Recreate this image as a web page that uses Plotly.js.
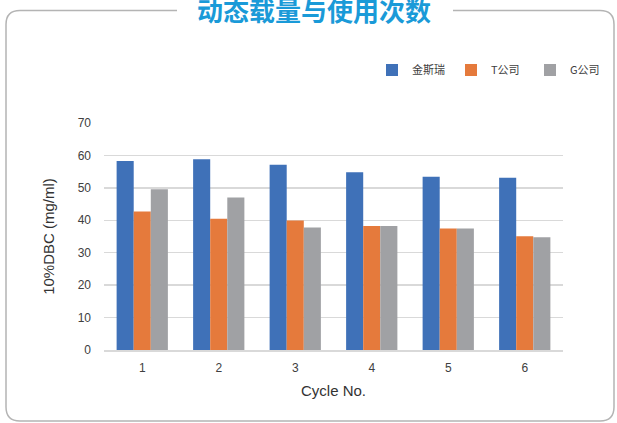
<!DOCTYPE html>
<html><head><meta charset="utf-8">
<script src="https://cdn.plot.ly/plotly-3.0.1.min.js"></script>
<style>html,body{margin:0;padding:0;background:#fff;}#chart{width:617px;height:423px;}</style>
</head><body><div id="chart"></div>
<script>
const categories = ['1','2','3','4','5','6'];
const seriesNames = ['金斯瑞','T公司','G公司'];
const genscript = [58.3, 58.8, 57.1, 54.8, 53.4, 53.1];
const companyT = [42.7, 40.5, 39.9, 38.2, 37.5, 35.1];
const companyG = [49.6, 47.0, 37.8, 38.2, 37.5, 34.8];
const colors = ['#3F71B8', '#E57A3C', '#A0A1A4'];
const chartTitle = '动态载量与使用次数';
const xTitle = 'Cycle No.';
const yTitle = '10%DBC (mg/ml)';

const W = 617, H = 423;
const mL = 104, mR = 54, mT = 123, mB = 73;
const pw = W - mL - mR, ph = H - mT - mB;
const px = x => (x - mL) / pw;
const py = y => (H - mB - y) / ph;

const values = [genscript, companyT, companyG];
const data = values.map((v, i) => ({
  type: 'bar', x: categories, y: v, name: seriesNames[i],
  marker: {color: colors[i], line: {width: 0}}
}));

// rounded frame with a gap for the title
const L = 6, T = 10.5, R = 614, B = 421, r = 14, gapL = 177, gapR = 453;
const framePath =
  `M${px(gapL)},${py(T)} L${px(L + r)},${py(T)} Q${px(L)},${py(T)} ${px(L)},${py(T + r)} ` +
  `L${px(L)},${py(B - r)} Q${px(L)},${py(B)} ${px(L + r)},${py(B)} L${px(R - r)},${py(B)} ` +
  `Q${px(R)},${py(B)} ${px(R)},${py(B - r)} L${px(R)},${py(T + r)} Q${px(R)},${py(T)} ${px(R - r)},${py(T)} L${px(gapR)},${py(T)}`;

const layout = {
  width: W, height: H,
  margin: {l: mL, r: mR, t: mT, b: mB, pad: 0, autoexpand: false},
  paper_bgcolor: '#fff', plot_bgcolor: '#fff',
  font: {family: 'Liberation Sans, Arial, sans-serif', color: '#404040'},
  barmode: 'group', bargap: 0.33, bargroupgap: 0,
  showlegend: true,
  legend: {orientation: 'h', x: px(372), y: py(70), xanchor: 'left', yanchor: 'middle',
           font: {size: 11, family: 'Noto Sans CJK SC, Liberation Sans, sans-serif', color: '#404040'},
           entrywidth: 34, entrywidthmode: 'pixels', itemwidth: 30, traceorder: 'normal'},
  xaxis: {type: 'category', showgrid: false, showline: true, linecolor: '#d9d9d9', linewidth: 1.5,
          ticks: '', tickfont: {size: 12}, ticklabelstandoff: 6,
          title: {text: xTitle, font: {size: 15, color: '#333'}, standoff: 11}},
  yaxis: {range: [0, 70], dtick: 10, showgrid: true, gridcolor: '#d9d9d9', gridwidth: 1.5,
          zeroline: false, showline: false, ticks: '', tickfont: {size: 12}, ticklabelstandoff: 12,
          title: {text: yTitle, font: {size: 15, color: '#333'}, standoff: 19}},
  shapes: [{type: 'path', xref: 'paper', yref: 'paper', path: framePath,
            line: {color: '#b4b4b4', width: 1.5}, fillcolor: 'rgba(0,0,0,0)'}],
  annotations: [{text: '<b>' + chartTitle + '</b>', xref: 'paper', yref: 'paper',
                 x: px(314), y: py(10), xanchor: 'center', yanchor: 'middle', showarrow: false,
                 font: {size: 26, color: '#1A9AD8', family: 'Noto Sans CJK SC, sans-serif'}}]
};
Plotly.newPlot('chart', data, layout, {displayModeBar: false, staticPlot: true});
</script></body></html>
